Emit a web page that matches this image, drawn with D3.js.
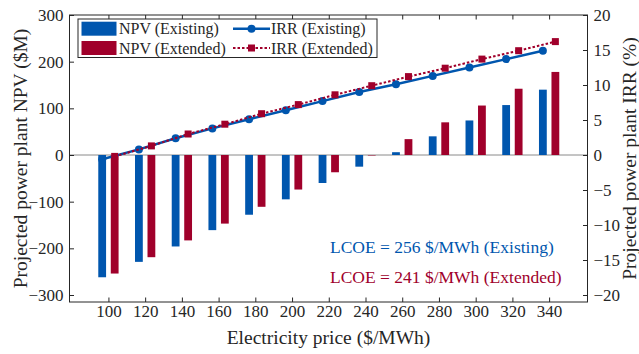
<!DOCTYPE html>
<html>
<head>
<meta charset="utf-8">
<script src="https://cdn.jsdelivr.net/npm/d3@7/dist/d3.min.js"></script>
<style>
  html, body { margin: 0; padding: 0; background: #fff; }
  svg { display: block; font-family: "Liberation Serif", "Times New Roman", serif; }
</style>
</head>
<body>
<svg id="chart" width="639" height="354"></svg>
<script>
// ── Data ──────────────────────────────────────────────────────────────
const prices = [100, 120, 140, 160, 180, 200, 220, 240, 260, 280, 300, 320, 340];
const npvExisting = [-262, -229, -196, -161, -128, -95, -60, -25, 6, 40, 74, 107, 140];
const npvExtended = [-254, -219, -183, -147, -111, -74, -37, -1, 34, 70, 106, 142, 178];
const irrExisting = [-0.6, 0.8, 2.4, 3.8, 5.1, 6.4, 7.7, 9.0, 10.1, 11.3, 12.5, 13.7, 14.9];
const irrExtended = [-0.2, 1.3, 3.0, 4.4, 5.9, 7.2, 8.6, 9.9, 11.2, 12.4, 13.7, 14.9, 16.2];
const npvTicks = [-300, -200, -100, 0, 100, 200, 300];
const irrTicks = [-20, -15, -10, -5, 0, 5, 10, 15, 20];

// ── Constants ─────────────────────────────────────────────────────────
const BLUE = '#0056AE';
const RED = '#A0002B';
const INK = '#262626';
const FRAME = { left: 69.5, right: 587.5, top: 15, bottom: 302 };
const BAR_W = 7.8;
const BAR_OFF = 6.25;
const TICK = 4.5;

const svg = d3.select('#chart');

// Scales
const x = d3.scaleLinear().domain([78.8, 360.9]).range([FRAME.left, FRAME.right]);
const yL = d3.scaleLinear().domain([-315, 300]).range([FRAME.bottom, FRAME.top]);
const yR = d3.scaleLinear().domain([-21, 20]).range([FRAME.bottom, FRAME.top]);

// Zero line
svg.append('line')
  .attr('x1', FRAME.left).attr('x2', FRAME.right)
  .attr('y1', yL(0)).attr('y2', yL(0))
  .attr('stroke', '#8a8a8a').attr('stroke-width', 1);

// Bars
const bars = svg.append('g');
bars.selectAll('.b-ex')
  .data(prices)
  .join('rect')
  .attr('x', (d) => x(d) - BAR_OFF - BAR_W / 2)
  .attr('width', BAR_W)
  .attr('y', (d, i) => yL(Math.max(0, npvExisting[i])))
  .attr('height', (d, i) => Math.abs(yL(npvExisting[i]) - yL(0)))
  .attr('fill', BLUE);

bars.selectAll('.b-ext')
  .data(prices)
  .join('rect')
  .attr('x', (d) => x(d) + BAR_OFF - BAR_W / 2)
  .attr('width', BAR_W)
  .attr('y', (d, i) => yL(Math.max(0, npvExtended[i])))
  .attr('height', (d, i) => Math.abs(yL(npvExtended[i]) - yL(0)))
  .attr('fill', RED);

// IRR lines
const lineEx = d3.line()
  .x((d, i) => x(prices[i]) - BAR_OFF)
  .y((d) => yR(d));
const lineExt = d3.line()
  .x((d, i) => x(prices[i]) + BAR_OFF)
  .y((d) => yR(d));

svg.append('path')
  .attr('d', lineEx(irrExisting))
  .attr('fill', 'none').attr('stroke', BLUE).attr('stroke-width', 2.5);
svg.selectAll('.m-ex')
  .data(irrExisting)
  .join('circle')
  .attr('cx', (d, i) => x(prices[i]) - BAR_OFF)
  .attr('cy', (d) => yR(d))
  .attr('r', 4)
  .attr('fill', BLUE);

svg.append('path')
  .attr('d', lineExt(irrExtended))
  .attr('fill', 'none').attr('stroke', RED).attr('stroke-width', 2)
  .attr('stroke-dasharray', '2.5,2');
svg.selectAll('.m-ext')
  .data(irrExtended)
  .join('rect')
  .attr('x', (d, i) => x(prices[i]) + BAR_OFF - 3.5)
  .attr('y', (d) => yR(d) - 3.5)
  .attr('width', 7).attr('height', 7)
  .attr('fill', RED);

// ── Axes ──────────────────────────────────────────────────────────────
function styleAxis(g) {
  g.select('.domain').remove();
  g.selectAll('line').attr('stroke', INK);
  g.selectAll('text').attr('fill', INK).attr('font-size', '17px')
    .attr('font-family', '"Liberation Serif", serif');
}

svg.append('g')
  .attr('transform', `translate(${FRAME.left},0)`)
  .call(d3.axisLeft(yL).tickValues(npvTicks).tickSize(-TICK).tickPadding(6))
  .call(styleAxis);

svg.append('g')
  .attr('transform', `translate(${FRAME.right},0)`)
  .call(d3.axisRight(yR).tickValues(irrTicks).tickSize(-TICK).tickPadding(6))
  .call(styleAxis);

svg.append('g')
  .attr('transform', `translate(0,${FRAME.bottom})`)
  .call(d3.axisBottom(x).tickValues(prices).tickSize(-TICK).tickPadding(3))
  .call(styleAxis);

svg.append('g')
  .attr('transform', `translate(0,${FRAME.top})`)
  .call(d3.axisTop(x).tickValues(prices).tickSize(-TICK).tickFormat(''))
  .call(styleAxis);

// Frame
svg.append('rect')
  .attr('x', FRAME.left).attr('y', FRAME.top)
  .attr('width', FRAME.right - FRAME.left)
  .attr('height', FRAME.bottom - FRAME.top)
  .attr('fill', 'none').attr('stroke', INK).attr('stroke-width', 1);

// Axis titles
svg.append('text')
  .attr('x', (FRAME.left + FRAME.right) / 2).attr('y', 344)
  .attr('text-anchor', 'middle').attr('font-size', '19.5px').attr('fill', INK)
  .text('Electricity price ($/MWh)');

svg.append('text')
  .attr('transform', `translate(27,${(FRAME.top + FRAME.bottom) / 2}) rotate(-90)`)
  .attr('text-anchor', 'middle').attr('font-size', '19.5px').attr('fill', INK)
  .text('Projected power plant NPV ($M)');

svg.append('text')
  .attr('transform', `translate(636,${(FRAME.top + FRAME.bottom) / 2}) rotate(-90)`)
  .attr('text-anchor', 'middle').attr('font-size', '19.5px').attr('fill', INK)
  .text('Projected power plant IRR (%)');

// LCOE annotations
svg.append('text')
  .attr('x', 330).attr('y', 252.5)
  .attr('font-size', '17.5px').attr('fill', BLUE)
  .text('LCOE = 256 $/MWh (Existing)');
svg.append('text')
  .attr('x', 330).attr('y', 283)
  .attr('font-size', '17.5px').attr('fill', RED)
  .text('LCOE = 241 $/MWh (Extended)');

// ── Legend ────────────────────────────────────────────────────────────
const legend = svg.append('g');
legend.append('rect')
  .attr('x', 78).attr('y', 19).attr('width', 299).attr('height', 38.5)
  .attr('fill', '#fff').attr('stroke', INK).attr('stroke-width', 1);

const rows = [28.7, 48];
const fontL = '16px';
[[BLUE, 'NPV (Existing)'], [RED, 'NPV (Extended)']].forEach(([c, t], i) => {
  legend.append('rect')
    .attr('x', 81.5).attr('y', rows[i] - 7).attr('width', 35).attr('height', 14)
    .attr('fill', c);
  legend.append('text')
    .attr('x', 119).attr('y', rows[i] + 5.5)
    .attr('font-size', fontL).attr('fill', INK).text(t);
});

legend.append('line')
  .attr('x1', 233).attr('x2', 270).attr('y1', rows[0]).attr('y2', rows[0])
  .attr('stroke', BLUE).attr('stroke-width', 2.5);
legend.append('circle').attr('cx', 251.5).attr('cy', rows[0]).attr('r', 4).attr('fill', BLUE);
legend.append('text').attr('x', 271).attr('y', rows[0] + 5.5)
  .attr('font-size', fontL).attr('fill', INK).text('IRR (Existing)');

legend.append('line')
  .attr('x1', 233).attr('x2', 270).attr('y1', rows[1]).attr('y2', rows[1])
  .attr('stroke', RED).attr('stroke-width', 2).attr('stroke-dasharray', '2.5,2');
legend.append('rect').attr('x', 248).attr('y', rows[1] - 3.5).attr('width', 7).attr('height', 7).attr('fill', RED);
legend.append('text').attr('x', 271).attr('y', rows[1] + 5.5)
  .attr('font-size', fontL).attr('fill', INK).text('IRR (Extended)');
</script>
</body>
</html>
